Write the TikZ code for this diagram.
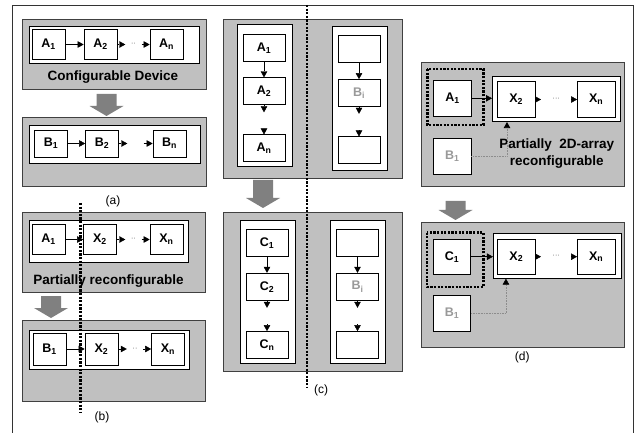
\documentclass[tikz,border=0pt]{standalone}
\usepackage{fontspec}
\setmainfont{Liberation Sans}
\usetikzlibrary{positioning,calc,arrows.meta}
\definecolor{panelgray}{HTML}{C0C0C0}
\definecolor{arrowgray}{HTML}{808080}
\definecolor{ghostgray}{HTML}{999999}
% big gray block arrow: x, top, tip
\newcommand{\grayarrow}[3]{%
  \fill[arrowgray] ({#1-10},#2) -- ({#1+10},#2) -- ({#1+10},{#3-10}) -- ({#1+17},{#3-10})
    -- (#1,#3) -- ({#1-17},{#3-10}) -- ({#1-10},{#3-10}) -- cycle;}

\begin{document}
\begin{tikzpicture}[x=1pt,y=-1pt,>={Triangle[length=6pt,width=6.5pt]},
  box/.style={draw,fill=white,line width=0.7pt,inner sep=0pt,font=\bfseries\fontsize{12.5}{13}\selectfont},
  boxa/.style={box,minimum width=33pt,minimum height=30pt},
  boxc/.style={box,minimum width=42pt,minimum height=27pt},
  boxd/.style={box,minimum width=37.5pt,minimum height=35.5pt},
  ghost/.style={text=ghostgray},
  gap/.style={inner sep=0pt,minimum size=16pt,font=\scriptsize,text=black!70},
  panel/.style={draw=black!75,fill=panelgray,line width=0.8pt},
  holder/.style={draw,fill=white,line width=0.7pt},
  cut/.style={line width=2.4pt,dash pattern=on 2.2pt off 1.4pt},
  feed/.style={draw=black!45,densely dotted,line width=0.6pt,-{Triangle[length=6pt,width=6.5pt,black]}},
  banner/.style={font=\bfseries\fontsize{13.5}{17}\selectfont},
  tag/.style={font=\fontsize{12}{14}\selectfont}]
\useasboundingbox (0,0) rectangle (638,433);
\draw[black!80,line width=0.7pt] (12,433) -- (12,5) -- (633,5) -- (633,433);

%-- (a) --%
\draw[panel]  (22.7,19.3) rectangle (206,89.3);
\draw[holder] (29,26.7) rectangle (199,63.3);
\node[boxa] (A1a) at (48.5,44.5)  {A\textsubscript{1}};
\node[boxa] (A2a) at (100.5,44.5) {A\textsubscript{2}};
\node[gap]  (dA)  at (133.5,44.5) {··};
\node[boxa] (Ana) at (166.5,44.5) {A\textsubscript{n}};
\node[banner] (cfg) at (113,77)   {Configurable Device};
\grayarrow{106.5}{94}{116}
\draw[panel]  (22.7,117) rectangle (206,186);
\draw[holder] (29,125.7) rectangle (200,163);
\node[boxa,minimum height=27pt] (B1a) at (51,143.5)    {B\textsubscript{1}};
\node[boxa,minimum height=27pt] (B2a) at (102,143.5)   {B\textsubscript{2}};
\node[gap]                      (dB)  at (135.5,143.5) {};
\node[boxa,minimum height=27pt] (Bna) at (169.5,143.5) {B\textsubscript{n}};
\node[tag] (la) at (113,201) {(a)};
\path[->]
  (A1a) edge (A2a) (A2a) edge (dA) (dA) edge (Ana)
  (B1a) edge (B2a) (B2a) edge (dB) (dB) edge (Bna);

%-- (b) --%
\draw[panel]  (22.7,212.7) rectangle (205,292.7);
\draw[holder] (29,220) rectangle (188,262.7);
\node[boxa] (A1b) at (48.5,239.5)  {A\textsubscript{1}};
\node[boxa] (X2b) at (100,239.5)   {X\textsubscript{2}};
\node[gap]  (dXb) at (133.5,239.5) {··};
\node[boxa] (Xnb) at (166.5,239.5) {X\textsubscript{n}};
\node[banner] (prc) at (108.5,280.7) {Partially reconfigurable};
\grayarrow{51}{296}{318}
\draw[panel]  (22.7,320.7) rectangle (205,401.7);
\draw[holder] (29,330) rectangle (189,369);
\node[boxa,minimum height=32pt] (B1b)  at (49.5,349)  {B\textsubscript{1}};
\node[boxa,minimum height=32pt] (X2bb) at (101.5,349) {X\textsubscript{2}};
\node[gap]                      (dXbb) at (135,349)   {··};
\node[boxa,minimum height=32pt] (Xnbb) at (168,349)   {X\textsubscript{n}};
\path[->]
  (A1b) edge (X2b)  (X2b) edge (dXb)   (dXb) edge (Xnb)
  (B1b) edge (X2bb) (X2bb) edge (dXbb) (dXbb) edge (Xnbb);
\draw[cut] (80.5,203) -- (80.5,413);
\node[tag] (lb) at (102,417) {(b)};

%-- (c) --%
\draw[panel]  (223.3,19) rectangle (402.7,178.3);
\draw[holder] (237.3,24.3) rectangle (292.3,166.7);
\node[boxc] (A1c) at (264,48)    {A\textsubscript{1}};
\node[boxc] (A2c) at (264,91.2)  {A\textsubscript{2}};
\node[gap]  (dAc) at (264,120.5) {};
\node[boxc] (Anc) at (264,148.3) {A\textsubscript{n}};
\draw[holder] (332.3,26) rectangle (387.3,170);
\node[boxc] (E1c) at (359,48.8)  {};
\node[boxc,ghost] (Bic) at (359,93) {B\textsubscript{i}};
\node[gap]  (dEc) at (359,122)   {};
\node[boxc] (E3c) at (359,150.3) {};
\grayarrow{263}{180}{208}
\draw[panel]  (223.3,212.3) rectangle (402.7,371.7);
\draw[holder] (240,220.7) rectangle (295,363.3);
\node[boxc] (C1c) at (267,243.3) {C\textsubscript{1}};
\node[boxc] (C2c) at (267,286.7) {C\textsubscript{2}};
\node[gap]  (dCc) at (267,316)   {};
\node[boxc] (Cnc) at (267,345)   {C\textsubscript{n}};
\draw[holder] (330.7,220.7) rectangle (385.7,363.3);
\node[boxc] (F1c) at (357.5,243.3) {};
\node[boxc,ghost] (Bicc) at (357.5,286.7) {B\textsubscript{i}};
\node[gap]  (dFc) at (357.5,316)   {};
\node[boxc] (F3c) at (357.5,345)   {};
\path[->]
  (A1c) edge (A2c) (A2c) edge (dAc)  (dAc) edge (Anc)
  (E1c) edge (Bic) (Bic) edge (dEc)  (dEc) edge (E3c)
  (C1c) edge (C2c) (C2c) edge (dCc)  (dCc) edge (Cnc)
  (F1c) edge (Bicc) (Bicc) edge (dFc) (dFc) edge (F3c);
\draw[cut] (306.7,5) -- (306.7,387);
\node[tag] (lc) at (321,390) {(c)};

%-- (d) --%
\draw[panel] (421.7,62.7) rectangle (624,186.7);
\draw[cut]   (427.3,69.3) rectangle (483.3,125);
\node[boxd] (A1d) at (452.5,98.3) {A\textsubscript{1}};
\node[holder,inner sep=0pt,minimum width=127.7pt,minimum height=45pt] (wtd) at (556.2,99.2) {};
\node[boxd] (X2d) at (516.2,99.5) {X\textsubscript{2}};
\node[gap,minimum width=30pt] (dXd) at (556.2,99.5) {···};
\node[boxd] (Xnd) at (596.2,99.5) {X\textsubscript{n}};
\node[boxd,ghost] (B1d) at (452.3,156.2) {B\textsubscript{1}};
\node[banner,align=center] (pd) at (556.7,153.6) {Partially\ \ 2D-array\\reconfigurable};
\grayarrow{455.5}{201}{220}
\draw[panel] (421.7,222.7) rectangle (624,347.3);
\draw[cut]   (426.7,232.7) rectangle (483.3,286.7);
\node[boxd] (C1d) at (452,256.7) {C\textsubscript{1}};
\node[holder,inner sep=0pt,minimum width=128.4pt,minimum height=45pt] (wtdd) at (557.5,255.8) {};
\node[boxd] (X2dd) at (516.3,256.7) {X\textsubscript{2}};
\node[gap,minimum width=30pt] (dXdd) at (556.2,256.7) {···};
\node[boxd] (Xndd) at (596.2,256.7) {X\textsubscript{n}};
\node[boxd,ghost,minimum height=36.7pt] (B1dd) at (452,313.3) {B\textsubscript{1}};
\path[->]
  (X2d) edge (dXd)   (dXd) edge (Xnd)
  (X2dd) edge (dXdd) (dXdd) edge (Xndd);
\draw[->] (A1d.east) -- (A1d.east -| wtd.west);
\draw[->] (C1d.east) -- (C1d.east -| wtdd.west);
\draw[feed] (B1d.east) -| ([xshift=15pt]wtd.south west);
\draw[feed] (B1dd.east) -| ([xshift=13pt]wtdd.south west);
\node[tag] (ld) at (522.3,357) {(d)};
\end{tikzpicture}
\end{document}
